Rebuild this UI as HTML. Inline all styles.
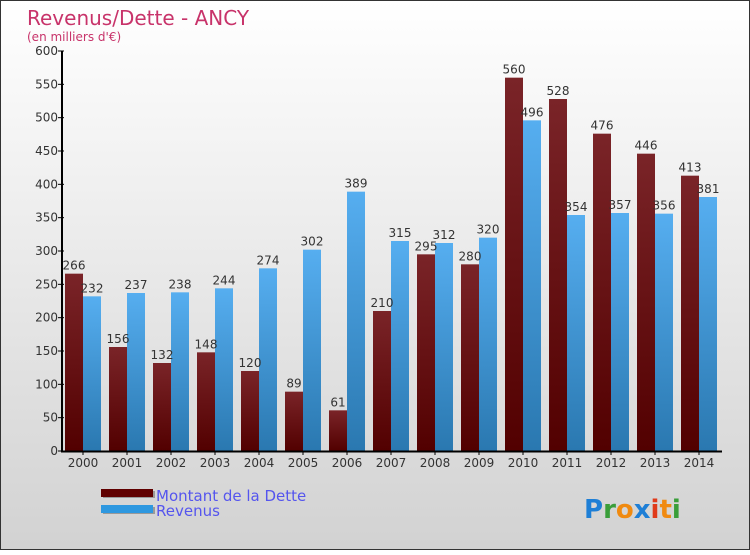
<!DOCTYPE html>
<html><head><meta charset="utf-8"><style>
body{margin:0;width:750px;height:550px;overflow:hidden;font-family:"DejaVu Sans","Liberation Sans",sans-serif}
#c{position:absolute;left:0;top:0;width:748px;height:548px;border:1px solid #333;background:linear-gradient(#ffffff,#d2d2d2)}
</style></head><body>
<div id="c">
<svg width="750" height="550">
<defs>
<linearGradient id="gd" x1="0" y1="0" x2="0" y2="1"><stop offset="0" stop-color="#7a2428"/><stop offset="1" stop-color="#520000"/></linearGradient>
<linearGradient id="gr" x1="0" y1="0" x2="0" y2="1"><stop offset="0" stop-color="#56aef0"/><stop offset="1" stop-color="#2a78b0"/></linearGradient>
</defs>
<text x="26" y="24" font-size="20" fill="#c8336a">Revenus/Dette - ANCY</text>
<text x="26" y="40" font-size="12" fill="#c8336a">(en milliers d'€)</text>
<g id="plot"></g>
<g>
<rect x="102" y="490" width="52" height="7" fill="#999"/><rect x="100" y="488" width="52" height="8" fill="#600000"/>
<rect x="102" y="506" width="52" height="7" fill="#999"/><rect x="100" y="504" width="52" height="8" fill="#2e98e0"/>
<text x="155" y="500" font-size="15" fill="#5555ee">Montant de la Dette</text>
<text x="155" y="515" font-size="15" fill="#5555ee">Revenus</text>
</g>
<g font-size="26" font-weight="bold" font-family="DejaVu Sans,sans-serif">
<text x="583" y="517"><tspan fill="#1e7fd6">P</tspan><tspan fill="#3a9e3a">r</tspan><tspan fill="#f08a10">o</tspan><tspan fill="#1e7fd6">x</tspan><tspan fill="#e03a1a">i</tspan><tspan fill="#f08a10">t</tspan><tspan fill="#3a9e3a">i</tspan></text>
</g>
</svg></div>
<script>
const years=["2000","2001","2002","2003","2004","2005","2006","2007","2008","2009","2010","2011","2012","2013","2014"];
const dette=[266,156,132,148,120,89,61,210,295,280,560,528,476,446,413];
const revenus=[232,237,238,244,274,302,389,315,312,320,496,354,357,356,381];
const yTicks=[0,50,100,150,200,250,300,350,400,450,500,550,600];
const NS="http://www.w3.org/2000/svg";
const g=document.getElementById('plot');
const x0=60,step=44,y0=450,yMax=600,h=400;
const Y=v=>y0-v/yMax*h;
const X=i=>x0+i*step+step/2;
function mk(t,a){const e=document.createElementNS(NS,t);for(const k in a)e.setAttribute(k,a[k]);g.appendChild(e);return e;}
years.forEach((yr,i)=>{
  const c=X(i);
  let r=mk('rect',{x:c-18,y:Y(dette[i]),width:18,height:y0-Y(dette[i]),fill:'url(#gd)'});
  
  
  r=mk('rect',{x:c,y:Y(revenus[i]),width:18,height:y0-Y(revenus[i]),fill:'url(#gr)'});
  
  
  let t=mk('text',{x:c-9,y:Y(dette[i])-4,'font-size':12,fill:'#333','text-anchor':'middle'});t.textContent=dette[i];
  
  
  t=mk('text',{x:c+9,y:Y(revenus[i])-4,'font-size':12,fill:'#333','text-anchor':'middle'});t.textContent=revenus[i];
  
  
  mk('line',{x1:c,x2:c,y1:y0,y2:y0+4,stroke:'#000'});
  t=mk('text',{x:c,y:y0+16,'font-size':12,fill:'#333','text-anchor':'middle'});t.textContent=yr;
  
  
});
yTicks.forEach(v=>{
  mk('line',{x1:x0-3,x2:x0+3,y1:Y(v),y2:Y(v),stroke:'#000'});
  const t=mk('text',{x:x0-3,y:Y(v)+4,'font-size':12,fill:'#333','text-anchor':'end'});t.textContent=v;
  
  
});
let a=mk('line',{x1:x0+1,x2:x0+1,y1:Y(600),y2:y0,stroke:'#000','stroke-width':2});


a=mk('line',{x1:x0,x2:x0+15*step+1,y1:y0+0.5,y2:y0+0.5,stroke:'#000','stroke-width':2});


</script>
</body></html>
